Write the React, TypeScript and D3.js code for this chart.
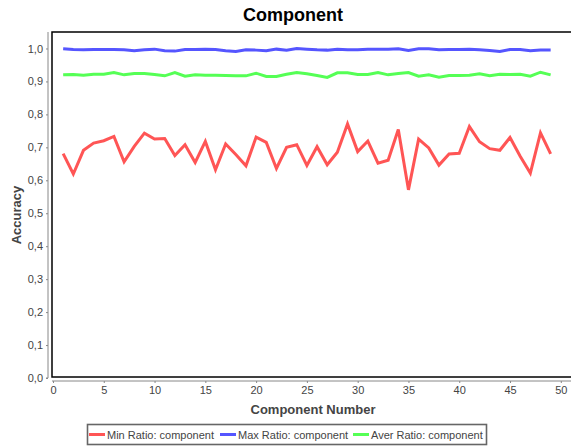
import React, { useEffect, useRef } from 'react';
import * as d3 from 'd3';

const components = d3.range(1, 50);

const minRatio = [
  0.681, 0.619, 0.691, 0.713, 0.72, 0.733, 0.656, 0.703, 0.743, 0.725,
  0.727, 0.675, 0.708, 0.654, 0.718, 0.632, 0.71, 0.678, 0.644, 0.731,
  0.715, 0.636, 0.7, 0.708, 0.645, 0.702, 0.647, 0.685, 0.771, 0.687,
  0.719, 0.652, 0.661, 0.754, 0.571, 0.725, 0.698, 0.646, 0.68, 0.682,
  0.763, 0.717, 0.696, 0.691, 0.73, 0.673, 0.622, 0.744, 0.68,
];

const maxRatio = [
  0.999, 0.997, 0.996, 0.997, 0.997, 0.997, 0.996, 0.993, 0.996, 0.998,
  0.993, 0.992, 0.997, 0.997, 0.998, 0.997, 0.993, 0.991, 0.996, 0.995,
  0.993, 0.998, 0.995, 1.0, 0.998, 0.996, 0.995, 0.998, 0.996, 0.996,
  0.998, 0.998, 0.998, 0.999, 0.994, 0.999, 0.999, 0.996, 0.997, 0.997,
  0.998, 0.996, 0.994, 0.991, 0.997, 0.997, 0.993, 0.995, 0.995,
];

const averRatio = [
  0.92, 0.921, 0.919, 0.922, 0.922, 0.927, 0.92, 0.924, 0.924, 0.921,
  0.917, 0.927, 0.916, 0.92, 0.919, 0.919, 0.918, 0.917, 0.917, 0.925,
  0.915, 0.915, 0.922, 0.927, 0.923, 0.918, 0.912, 0.926, 0.926, 0.921,
  0.921, 0.927, 0.92, 0.924, 0.927, 0.916, 0.92, 0.913, 0.918, 0.918,
  0.919, 0.923, 0.917, 0.922, 0.921, 0.922, 0.916, 0.928, 0.92,
];

const seriesNames = ['Min Ratio: component', 'Max Ratio: component', 'Aver Ratio: component'];
const seriesColors = ['#ff5555', '#5555ff', '#55ff55'];
const xTicks = d3.range(0, 51, 5);
const yTicks = d3.range(0, 1.01, 0.1);

const FONT = '"Liberation Sans", Arial, sans-serif';

export default function App() {
  const svgRef = useRef<SVGSVGElement>(null);

  useEffect(() => {
    if (!svgRef.current) return;
    const svg = d3.select(svgRef.current);
    svg.selectAll('*').remove();

    const plot = { left: 52, top: 32, right: 574, bottom: 377 };

    const x = d3.scaleLinear().domain([0, 51.3]).range([plot.left + 1, plot.right]);
    const y = d3.scaleLinear().domain([0, 1.05]).range([plot.bottom + 1, plot.top]);

    // title
    svg.append('text')
      .attr('x', 293)
      .attr('y', 21)
      .attr('text-anchor', 'middle')
      .attr('font-family', FONT)
      .attr('font-size', 18)
      .attr('font-weight', 'bold')
      .attr('fill', '#000')
      .text('Component');

    // y axis
    const yAxis = svg.append('g')
      .attr('transform', `translate(${plot.left - 4},0)`)
      .call(d3.axisLeft(y).tickValues(yTicks).tickSize(2).tickPadding(3)
        .tickFormat(d => d3.format('.1f')(d as number).replace('.', ',')));
    yAxis.select('.domain').attr('stroke', '#888').attr('d', `M-2,${y(0)}H0V${plot.top}`);
    yAxis.selectAll('.tick line').attr('stroke', '#888');
    yAxis.selectAll('text').attr('font-family', FONT).attr('font-size', 11).attr('fill', '#444');

    // x axis
    const xAxis = svg.append('g')
      .attr('transform', `translate(0,${plot.bottom + 4})`)
      .call(d3.axisBottom(x).tickValues(xTicks).tickSize(2).tickPadding(3));
    xAxis.select('.domain').attr('stroke', '#888').attr('d', `M${plot.left},0H${plot.right}`);
    xAxis.selectAll('.tick line').attr('stroke', '#888');
    xAxis.selectAll('text').attr('font-family', FONT).attr('font-size', 11).attr('fill', '#444');

    // axis labels
    svg.append('text')
      .attr('transform', 'translate(21,215) rotate(-90)')
      .attr('text-anchor', 'middle')
      .attr('font-family', FONT)
      .attr('font-size', 13)
      .attr('font-weight', 'bold')
      .attr('fill', '#444')
      .text('Accuracy');

    svg.append('text')
      .attr('x', 313)
      .attr('y', 414)
      .attr('text-anchor', 'middle')
      .attr('font-family', FONT)
      .attr('font-size', 13)
      .attr('font-weight', 'bold')
      .attr('fill', '#444')
      .text('Component Number');

    // plot background + border
    svg.append('rect')
      .attr('x', plot.left)
      .attr('y', plot.top)
      .attr('width', plot.right - plot.left)
      .attr('height', plot.bottom - plot.top)
      .attr('fill', '#fff')
      .attr('stroke', '#000')
      .attr('stroke-width', 1.5);

    // lines
    const line = d3.line<number>()
      .x((_, i) => x(components[i]))
      .y(d => y(d));

    [minRatio, maxRatio, averRatio].forEach((vals, i) => {
      svg.append('path')
        .datum(vals)
        .attr('d', line)
        .attr('fill', 'none')
        .attr('stroke', seriesColors[i])
        .attr('stroke-width', 3)
        .attr('stroke-linejoin', 'miter');
    });

    // legend
    const legend = svg.append('g');
    legend.append('rect')
      .attr('x', 87.5)
      .attr('y', 424.5)
      .attr('width', 399)
      .attr('height', 20)
      .attr('fill', '#fff')
      .attr('stroke', '#666')
      .attr('stroke-width', 1.6);
    const legendX = [89, 220, 353];
    seriesNames.forEach((name, i) => {
      legend.append('line')
        .attr('x1', legendX[i])
        .attr('x2', legendX[i] + 16)
        .attr('y1', 434.5)
        .attr('y2', 434.5)
        .attr('stroke', seriesColors[i])
        .attr('stroke-width', 3);
      legend.append('text')
        .attr('x', legendX[i] + 18)
        .attr('y', 439)
        .attr('font-family', FONT)
        .attr('font-size', 11)
        .attr('fill', '#444')
        .text(name);
    });
  }, []);

  return (
    <div style={{ position: 'absolute', left: 0, top: 0 }}>
      <svg ref={svgRef} width={571} height={446} style={{ display: 'block', background: '#fff' }} />
    </div>
  );
}
